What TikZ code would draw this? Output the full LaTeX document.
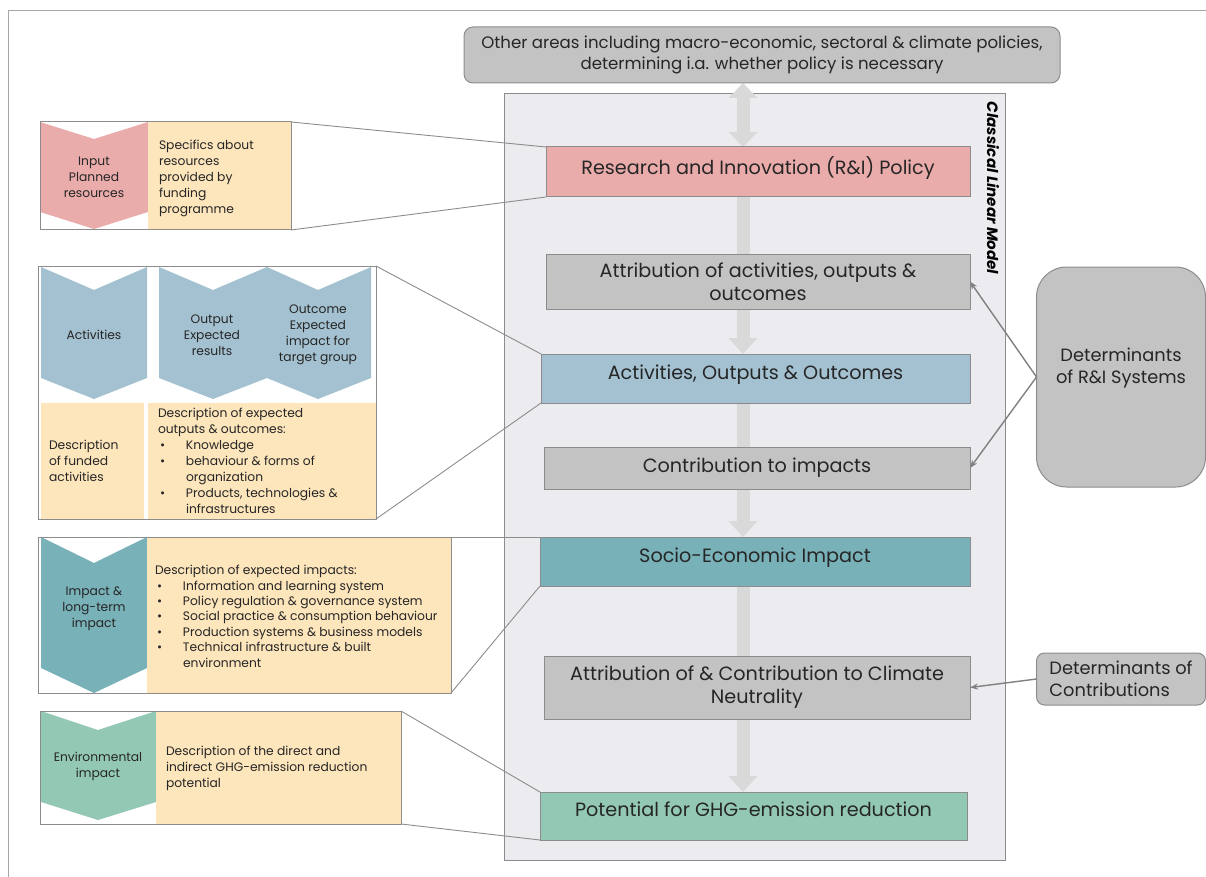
\documentclass[tikz,border=0pt]{standalone}
\usepackage{fontspec}
\setmainfont{Poppins}
\usetikzlibrary{arrows.meta}
\pgfdeclarelayer{back}
\pgfdeclarelayer{mid}
\pgfsetlayers{back,mid,main}
\definecolor{bord}{HTML}{8C8C8C}
\definecolor{frame}{HTML}{A6A6A6}
\definecolor{boxgray}{HTML}{C3C3C3}
\definecolor{panelbg}{HTML}{EBEBF0}
\definecolor{pinkc}{HTML}{EAABAB}
\definecolor{bluec}{HTML}{A3C1D0}
\definecolor{tealc}{HTML}{78B1B8}
\definecolor{greenc}{HTML}{93C9B4}
\definecolor{yellowc}{HTML}{FDE5BC}
\definecolor{flowc}{HTML}{D9D9D9}
\definecolor{detarrow}{HTML}{808080}
\definecolor{txt}{HTML}{262626}
\newcommand{\fmain}{\fontsize{19.2}{23}\selectfont}
\newcommand{\fdet}{\fontsize{17.8}{22}\selectfont}
\newcommand{\ftop}{\fontsize{16.6}{21}\selectfont}
\newcommand{\fsmall}{\fontsize{12.3}{16}\selectfont}
\newcommand{\fimp}{\fontsize{12.3}{15.4}\selectfont}
\newcommand{\bul}{\hspace*{2pt}\makebox[26pt][l]{\textbullet}}
\newcommand{\ind}{\hspace*{28pt}}
\begin{document}
\begin{tikzpicture}[x=1pt,y=-1pt,
  every node/.style={text=txt, outer sep=0pt},
  mainbox/.style={draw=bord, line width=1pt, minimum width=#1, align=center, font=\fmain, inner sep=2pt},
  lift/.style={text depth=13pt},
  panelframe/.style={draw=bord, line width=1pt},
  flow/.style={draw=flowc, line width=13pt},
  flowhead/.style={flow, -{Triangle[width=28pt,length=16pt]}},
  flowboth/.style={flow, {Triangle[width=28pt,length=15pt]}-{Triangle[width=28pt,length=15pt]}},
  detline/.style={draw=detarrow, line width=1.4pt, -{Stealth[length=8pt,width=6pt]}},
  link/.style={draw=bord, line width=0.9pt},
  chevtext/.style={font=\fsmall, align=center},
  desc/.style={font=\fsmall, align=left, anchor=base west, inner sep=0pt}
]
\useasboundingbox (0,0) rectangle (1206,877);
% outer frame
\draw[frame, line width=1pt] (8,877) -- (8,11) -- (1206,11);

% top box
\node[draw=bord, fill=boxgray, line width=1pt, rounded corners=9pt, minimum width=596pt, minimum height=56pt, align=center, font=\ftop] (other) at (762,55)
  {Other areas including macro-economic, sectoral \& climate policies,\\determining i.a. whether policy is necessary};

% classical linear model panel
\begin{pgfonlayer}{back}
\node[draw=bord, fill=panelbg, line width=1pt, minimum width=501pt, minimum height=766pt] (clm) at (754.5,477) {};
\end{pgfonlayer}
\node[rotate=-90, font=\fontsize{15}{16}\selectfont\bfseries\itshape, text=black] (clmlabel) at (993,188) {Classical Linear Model};

% central boxes
\node[mainbox=424pt, fill=pinkc, minimum height=50pt, lift] (rip) at (758,172) {Research and Innovation (R\&I) Policy};
\node[mainbox=424pt, fill=boxgray, minimum height=55pt] (attr) at (758,281.5) {Attribution of activities, outputs \&\\outcomes};
\node[mainbox=429pt, fill=bluec, minimum height=49pt, lift] (act) at (755.5,378.5) {Activities, Outputs \& Outcomes};
\node[mainbox=426pt, fill=boxgray, minimum height=42pt] (contr) at (757,468) {Contribution to impacts};
\node[mainbox=430pt, fill=tealc, minimum height=49pt, lift] (socio) at (755,561.5) {Socio-Economic Impact};
\node[mainbox=426pt, fill=boxgray, minimum height=63pt] (attrc) at (757,687.5) {Attribution of \& Contribution to Climate\\Neutrality};
\node[mainbox=427pt, fill=greenc, minimum height=48pt, lift] (pot) at (753.5,816) {Potential for GHG-emission reduction};

% flow arrows behind boxes
\coordinate (fx) at (743,0);
\begin{pgfonlayer}{mid}
\draw[flowboth] (fx |- other.south) -- (fx |- rip.north);
\draw[flow] (fx |- rip.south) -- (fx |- attr.north);
\draw[flowhead] (fx |- attr.south) -- (fx |- act.north);
\draw[flow] (fx |- act.south) -- (fx |- contr.north);
\draw[flowhead] (fx |- contr.south) -- (fx |- socio.north);
\draw[flow] (fx |- socio.south) -- (fx |- attrc.north);
\draw[flowhead] (fx |- attrc.south) -- (fx |- pot.north);
\end{pgfonlayer}

% right determinants
\node[draw=bord, fill=boxgray, line width=1pt, rounded corners=30pt, minimum width=169pt, minimum height=220pt, align=center, font=\fdet, text depth=22pt] (detri) at (1121,377) {Determinants\\of R\&I Systems};
\node[draw=bord, fill=boxgray, line width=1pt, rounded corners=8pt, minimum width=169pt, minimum height=52pt, align=left, font=\fdet] (detco) at (1121,679) {Determinants of\\Contributions};
\draw[detline] (detri.west) -- (attr.east);
\draw[detline] (detri.west) -- (contr.east);
\draw[detline] (detco.west) -- (attrc.east);

% ---------- left panel 1: Input
\fill[pinkc] (40,122) -- (94,139) -- (148,122) -- (148,212) -- (94,229) -- (40,212) -- cycle;
\fill[yellowc] (148,122) rectangle (291,230);
\node[chevtext] (inpt) at (94,177) {Input\\Planned\\resources};
\node[desc] (inpd) at (159,214) {Specifics about\\resources\\provided by\\funding\\programme};
\node[panelframe, minimum width=251pt, minimum height=108pt] (inp) at (165.5,176) {};
\draw[link] (inp.north east) -- (rip.north west);
\draw[link] (inp.south east) -- (rip.south west);

% ---------- left panel 2: Activities
\fill[bluec] (41,267) -- (94,290) -- (147,267) -- (147,378) -- (94,399) -- (41,378) -- cycle;
\fill[bluec] (159,267) -- (213,290) -- (267,267) -- (318,290) -- (371,267) -- (371,378) -- (318,399) -- (267,378) -- (213,399) -- (159,378) -- cycle;
\fill[yellowc] (41,403) rectangle (144,519);
\fill[yellowc] (148,403) rectangle (376,519);
\node[chevtext] (actt) at (94,335) {Activities};
\node[chevtext] (outt) at (212,335) {Output\\Expected\\results};
\node[chevtext] (outct) at (318,335) {Outcome\\Expected\\impact for\\target group};
\node[desc] (actd) at (49,481) {Description\\of funded\\activities};
\node[desc] (outd) at (158,513) {Description of expected\\outputs \& outcomes:\\\bul Knowledge\\\bul behaviour \& forms of\\\ind organization\\\bul Products, technologies \&\\\ind infrastructures};
\node[panelframe, minimum width=338pt, minimum height=253pt] (actp) at (207,392.5) {};
\draw[link] (actp.north east) -- (act.north west);
\draw[link] (actp.south east) -- (act.south west);

% ---------- left panel 3: Impact
\fill[tealc] (41,537) -- (94,563) -- (147,537) -- (147,668) -- (94,693) -- (41,668) -- cycle;
\fill[yellowc] (147,537) rectangle (451,693);
\node[chevtext] (impt) at (94,609) {Impact \&\\long-term\\impact};
\node[desc, font=\fimp] (impd) at (155,667) {Description of expected impacts:\\\bul Information and learning system\\\bul Policy regulation \& governance system\\\bul Social practice \& consumption behaviour\\\bul Production systems \& business models\\\bul Technical infrastructure \& built\\\ind environment};
\node[panelframe, minimum width=413pt, minimum height=156pt] (impp) at (244.5,615) {};
\draw[link] (impp.north east) -- (socio.north west);
\draw[link] (impp.south east) -- (socio.south west);

% ---------- left panel 4: Environmental
\fill[greenc] (41,711) -- (98,730) -- (156,711) -- (156,802) -- (98,820) -- (41,802) -- cycle;
\fill[yellowc] (156,711) rectangle (401,824);
\node[chevtext] (envt) at (98,766) {Environmental\\impact};
\node[desc] (envd) at (166,787) {Description of the direct and\\indirect GHG-emission reduction\\potential};
\node[panelframe, minimum width=361pt, minimum height=113pt] (envp) at (220.5,767.5) {};
\draw[link] (envp.north east) -- (pot.north west);
\draw[link] (envp.south east) -- (pot.south west);
\end{tikzpicture}
\end{document}
